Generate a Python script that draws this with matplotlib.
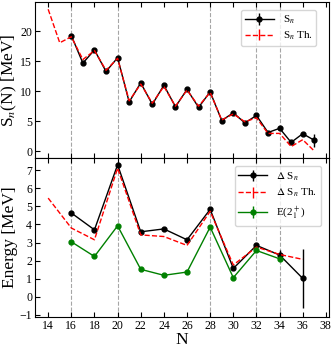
import numpy as np
import matplotlib
matplotlib.use("Agg")
import matplotlib.pyplot as plt

plt.rcParams['font.family'] = ['Liberation Serif', 'DejaVu Serif']
plt.rcParams['mathtext.fontset'] = 'stix'

# separation energies (top panel)
n_exp = np.arange(16, 38)
sn_exp = [19.3, 14.7, 16.9, 13.3, 15.6, 8.2, 11.4, 7.8, 11.0, 7.4, 10.3,
          7.3, 9.9, 5.1, 6.4, 4.7, 5.95, 3.1, 3.8, 1.45, 2.9, 1.8]
sn_err = [0] * 21 + [1.1]
n_th = np.arange(14, 38)
sn_th = [23.7, 18.1, 19.1, 15.3, 16.8, 13.5, 15.5, 8.4, 11.2, 8.0, 10.8, 7.5,
         10.2, 7.5, 9.8, 5.2, 6.2, 4.9, 5.55, 2.95, 2.95, 0.75, 1.9, 0.0]

# shell gaps and 2+ energies (bottom panel)
n_dsn = np.arange(16, 37, 2)
dsn_exp = [4.63, 3.7, 7.29, 3.59, 3.75, 3.15, 4.83, 1.57, 2.84, 2.31, 1.02]
dsn_err = [0, 0, 0, 0, 0, 0, 0, 0, 0, 0.25, 1.63]
n_dsn_th = np.arange(14, 37, 2)
dsn_th = [5.45, 3.8, 3.15, 7.1, 3.42, 3.33, 2.84, 4.72, 1.76, 2.75, 2.34, 2.07]
n_e2 = np.arange(16, 35, 2)
e2 = [3.04, 2.23, 3.92, 1.52, 1.19, 1.37, 3.85, 1.06, 2.56, 2.1]

magic = [16, 20, 28, 32, 34]

fig = plt.figure(figsize=(3.32, 3.47), dpi=100)
ax1 = fig.add_axes([0.105, 0.544, 0.887, 0.450])
ax2 = fig.add_axes([0.105, 0.087, 0.887, 0.457], sharex=ax1)

ax1.errorbar(n_exp, sn_exp, yerr=sn_err, fmt='-o', color='k', ms=3.5, lw=1,
             label='S$_n$')
ax1.errorbar(n_th, sn_th, yerr=np.zeros(len(n_th)), fmt='--', color='r', lw=1,
             label='S$_n$ Th.')
ax1.set_ylabel('S$_n$(N) [MeV]', fontsize=12.5, labelpad=1)
ax1.legend(loc='upper right', bbox_to_anchor=(0.975, 0.985), fontsize=8,
           handlelength=2.6, labelspacing=0.3, borderpad=0.35)

ax2.errorbar(n_dsn, dsn_exp, yerr=dsn_err, fmt='-o', color='k', ms=3.5, lw=1,
             label=r'$\Delta$ S$_n$')
ax2.errorbar(n_dsn_th, dsn_th, yerr=np.zeros(len(n_dsn_th)), fmt='--',
             color='r', lw=1, label=r'$\Delta$ S$_n$ Th.')
ax2.errorbar(n_e2, e2, yerr=np.zeros(len(n_e2)), fmt='-o', color='green',
             ms=3.5, lw=1, label='E(2$_1^+$)')
ax2.set_ylabel('Energy [MeV]', fontsize=12.5, labelpad=1)
ax2.set_xlabel('N', fontsize=12.5, labelpad=0)
ax2.legend(loc='upper right', bbox_to_anchor=(0.99, 0.985), fontsize=8,
           handlelength=2.6, labelspacing=0.4, borderpad=0.35)

for ax in (ax1, ax2):
    for m in magic:
        ax.axvline(m, color='gray', ls='--', lw=0.8, alpha=0.7, zorder=0)
    ax.tick_params(direction='in', labelsize=8.5, top=True, pad=2)

ax1.set_xticks(np.arange(14, 39, 2))
ax1.set_xlim(12.85, 38.3)
ax1.set_ylim(-1.2, 24.9)
ax1.set_yticks([0, 5, 10, 15, 20])
ax1.tick_params(labelbottom=False)
ax2.set_ylim(-1.1, 7.65)
ax2.set_yticks(np.arange(-1, 8))

fig.savefig('out.png', dpi=100)
